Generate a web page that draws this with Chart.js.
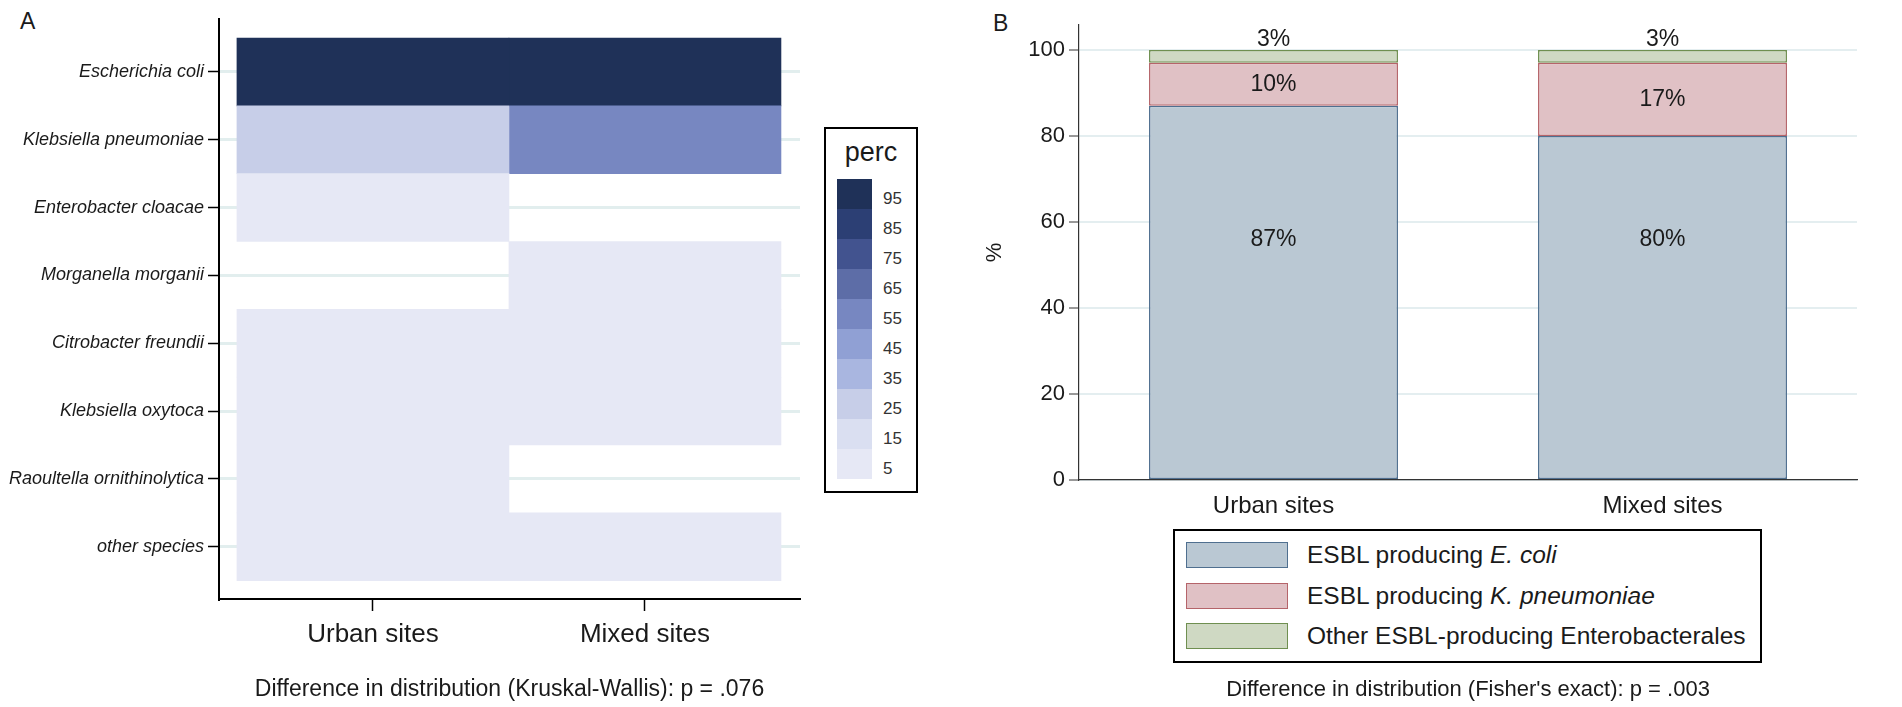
<!DOCTYPE html>
<html>
<head>
<meta charset="utf-8">
<script src="https://cdn.jsdelivr.net/npm/chart.js@4.4.1/dist/chart.umd.min.js"></script>
<style>
  html, body { margin: 0; padding: 0; background: #fff; }
  body {
    width: 1902px; height: 707px; position: relative; overflow: hidden;
    font-family: 'Liberation Sans', Arial, sans-serif; color: #1a1a1a;
  }
  canvas { position: absolute; top: 0; }
  .tag { position: absolute; font-size: 23px; line-height: 23px; }
  .box { position: absolute; border: 2px solid #000; box-sizing: border-box; background: #fff; }
  .box div { position: absolute; white-space: nowrap; }
</style>
</head>
<body>
<div class="tag" style="left:20px;top:10px">A</div>
<div class="tag" style="left:993px;top:12px">B</div>
<canvas id="heat" width="810" height="707" style="left:0"></canvas>
<div id="heat-legend" class="box" style="left:824px;top:127px;width:94px;height:366px"></div>
<canvas id="bars" width="942" height="707" style="left:960px"></canvas>
<div id="bar-legend" class="box" style="left:1173px;top:529px;width:589px;height:134px"></div>

<script>
const FONT = "'Liberation Sans', Arial, sans-serif";
const INK = '#1a1a1a';

// ---- panel A: heatmap ----
const species = [
  'Escherichia coli', 'Klebsiella pneumoniae', 'Enterobacter cloacae', 'Morganella morganii',
  'Citrobacter freundii', 'Klebsiella oxytoca', 'Raoultella ornithinolytica', 'other species'
];
const siteGroups = ['Urban sites', 'Mixed sites'];
// perc bin per cell (null = no isolates)
const urbanPerc = [95, 25, 5, null, 5, 5, 5, 5];
const mixedPerc = [95, 55, null, 5, 5, 5, null, 5];
const percLevels = [95, 85, 75, 65, 55, 45, 35, 25, 15, 5];
const percColors = ['#1f3158', '#2c3f74', '#42538f', '#5d6da7', '#7787c1',
                    '#90a0d4', '#a9b6e0', '#c7cee8', '#dadff1', '#e6e8f5'];

// ---- panel B: stacked bars ----
const siteLabels = ['Urban sites', 'Mixed sites'];
const ecoliPct = [87, 80];
const kpnPct = [10, 17];
const otherPct = [3, 3];
const yTicksB = [0, 20, 40, 60, 80, 100];
const groupNames = [
  'ESBL producing <i>E. coli</i>',
  'ESBL producing <i>K. pneumoniae</i>',
  'Other ESBL-producing Enterobacterales'
];
const groupFills = ['#bac8d3', '#e0c1c5', '#cfd9c3'];
const groupLines = ['#4f6f8f', '#b5646a', '#6f8f50'];

function colorFor(v) {
  const i = percLevels.findIndex(l => v >= l - 5 && v < l + 5);
  return percColors[i < 0 ? percColors.length - 1 : i];
}

const heatColumns = [urbanPerc, mixedPerc];

new Chart(document.getElementById('heat'), {
  type: 'bar',
  data: {
    datasets: heatColumns.map((col, c) => ({
      label: siteGroups[c],
      data: col.map((v, r) => v === null ? null : { x: [c, c + 1], y: r, v: v }).filter(Boolean),
      backgroundColor: ctx => ctx.raw ? colorFor(ctx.raw.v) : 'transparent',
      borderWidth: 0,
      barPercentage: 1,
      categoryPercentage: 1,
      grouped: false
    }))
  },
  options: {
    indexAxis: 'y',
    responsive: false,
    animation: false,
    devicePixelRatio: 1,
    layout: { padding: { top: 19, right: 10, left: 0, bottom: 0 } },
    plugins: { legend: { display: false }, tooltip: { enabled: false } },
    scales: {
      y: {
        type: 'linear', reverse: true, min: -0.78, max: 7.77,
        offset: false,
        afterBuildTicks: s => { s.ticks = species.map((_, i) => ({ value: i })); },
        afterFit: s => { s.width = 219; },
        ticks: {
          autoSkip: false,
          callback: v => species[v],
          font: { family: FONT, size: 18, style: 'italic' },
          color: INK, padding: 4
        },
        grid: { offset: false, color: '#e2eeee', lineWidth: 3, tickColor: '#000', tickLength: 11, tickWidth: 1.5 },
        border: { color: '#000', width: 2 }
      },
      x: {
        type: 'linear', min: -0.066, max: 2.07,
        afterBuildTicks: s => { s.ticks = siteGroups.map((_, i) => ({ value: i + 0.5 })); },
        afterFit: s => { s.height = 108; },
        ticks: {
          autoSkip: false, maxRotation: 0,
          callback: (v, i) => siteGroups[i],
          font: { family: FONT, size: 26 }, color: INK, padding: 8
        },
        grid: { drawOnChartArea: false, tickColor: '#000', tickLength: 12, tickWidth: 1.5 },
        border: { color: '#000', width: 2 },
        title: {
          display: true,
          text: 'Difference in distribution (Kruskal-Wallis): p = .076',
          font: { family: FONT, size: 23 }, color: INK,
          padding: { top: 0, bottom: 4 }
        }
      }
    }
  }
});

// colour key for panel A
const heatLegend = document.getElementById('heat-legend');
heatLegend.innerHTML = '<div style="left:0;right:0;top:10px;text-align:center;font-size:27px;line-height:27px">perc</div>';
percLevels.forEach((lvl, i) => {
  const sw = document.createElement('div');
  sw.style.cssText = `left:11px;top:${50 + i * 30}px;width:35px;height:30px;background:${percColors[i]}`;
  heatLegend.appendChild(sw);
  const lb = document.createElement('div');
  lb.style.cssText = `left:57px;top:${55 + i * 30}px;font-size:17px;line-height:30px;color:#333`;
  lb.textContent = lvl;
  heatLegend.appendChild(lb);
});

// value labels on the stacked bars
const barValueLabels = {
  id: 'barValueLabels',
  afterDatasetsDraw(chart) {
    const { ctx, chartArea } = chart;
    const areaMid = (chartArea.top + chartArea.bottom) / 2;
    ctx.save();
    ctx.font = '23px ' + FONT;
    ctx.fillStyle = INK;
    ctx.textAlign = 'center';
    ctx.textBaseline = 'middle';
    chart.data.datasets.forEach((ds, i) => {
      chart.getDatasetMeta(i).data.forEach((bar, j) => {
        const { x, y, base } = bar.getProps(['x', 'y', 'base'], true);
        let ty = (y + base) / 2;
        if (base - y < 24) ty = y - 10;
        else if (i === 0) ty = Math.min(ty, areaMid - 13);
        ctx.fillText(Math.round(ds.data[j]) + '%', x, ty);
      });
    });
    ctx.restore();
  }
};

const groupData = [ecoliPct, kpnPct, otherPct];

new Chart(document.getElementById('bars'), {
  type: 'bar',
  data: {
    labels: siteLabels,
    datasets: groupData.map((vals, i) => ({
      label: groupNames[i].replace(/<[^>]+>/g, ''),
      data: vals,
      backgroundColor: groupFills[i],
      borderColor: groupLines[i],
      borderWidth: 1.5,
      borderSkipped: false,
      barPercentage: 0.8,
      categoryPercentage: 0.8
    }))
  },
  options: {
    responsive: false,
    animation: false,
    devicePixelRatio: 1,
    layout: { padding: { top: 25, right: 45, left: 0, bottom: 0 } },
    plugins: { legend: { display: false }, tooltip: { enabled: false } },
    scales: {
      x: {
        stacked: true,
        offset: true,
        afterFit: s => { s.height = 227; },
        ticks: { font: { family: FONT, size: 24 }, color: INK, padding: 12, maxRotation: 0 },
        grid: { display: false, drawTicks: false },
        border: { color: '#333', width: 1.2 },
        title: {
          display: true,
          text: "Difference in distribution (Fisher's exact): p = .003",
          font: { family: FONT, size: 22 }, color: INK,
          padding: { top: 0, bottom: 4 }
        }
      },
      y: {
        stacked: true,
        min: 0, max: 105.8,
        afterBuildTicks: s => { s.ticks = yTicksB.map(v => ({ value: v })); },
        afterFit: s => { s.width = 119; },
        ticks: { font: { family: FONT, size: 22 }, color: INK, padding: 4 },
        grid: { color: '#e4eef0', lineWidth: 2, tickColor: '#333', tickLength: 10, tickWidth: 1 },
        border: { color: '#333', width: 1.2 },
        title: {
          display: true, text: '%',
          font: { family: FONT, size: 22 }, color: INK,
          padding: { top: 22, bottom: 0 }
        }
      }
    }
  },
  plugins: [barValueLabels]
});

// legend for panel B
const barLegend = document.getElementById('bar-legend');
[24, 65, 105].forEach((cy, i) => {
  const sw = document.createElement('div');
  sw.style.cssText = `left:11px;top:${cy - 13}px;width:102px;height:26px;box-sizing:border-box;` +
    `background:${groupFills[i]};border:1.5px solid ${groupLines[i]}`;
  barLegend.appendChild(sw);
  const tx = document.createElement('div');
  tx.style.cssText = `left:132px;top:${cy - 13}px;font-size:24.5px;line-height:26px`;
  tx.innerHTML = groupNames[i];
  barLegend.appendChild(tx);
});
</script>
</body>
</html>
